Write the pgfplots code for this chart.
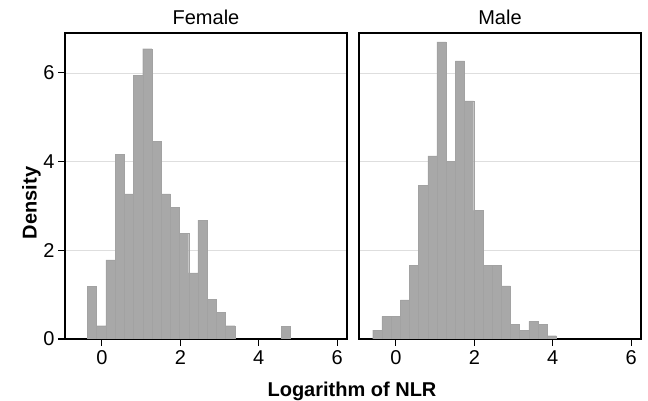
\documentclass[border=0pt]{standalone}
\usepackage{pgfplots}
\pgfplotsset{compat=1.18}
\usepackage{fontspec}
\setmainfont{Liberation Sans}
\definecolor{barcol}{RGB}{168,168,168}
\definecolor{baredge}{RGB}{162,162,162}
\definecolor{gridcol}{RGB}{222,222,222}
\pgfplotsset{
  panel/.style={
    anchor=south west, scale only axis,
    width=282pt, height=306pt,
    xmin=-0.94, xmax=6.25, ymin=0, ymax=6.9,
    xtick={0,2,4,6},
    tick pos=left, tick align=outside,
    major tick length=7pt,
    axis line style={line width=1.1pt},
    every tick/.style={black, line width=1.1pt},
    ymajorgrids, major grid style={gridcol, line width=0.8pt},
    tick label style={font=\fontsize{20}{23}\selectfont},
    /pgf/number format/assume math mode=true,
    xticklabel style={yshift=-1pt},
  },
  bars/.style={ybar interval, fill=barcol, draw=baredge, line width=0.3pt},
}
\begin{document}
\begin{tikzpicture}
\useasboundingbox (0,0) rectangle (648pt,401pt);
% Female
\begin{axis}[panel, at={(65pt,62pt)}, ytick={0,2,4,6}]
\addplot[bars] coordinates {
(-0.370,1.19) (-0.135,0.30) (0.100,1.785) (0.335,4.165) (0.570,3.27)
(0.805,5.95) (1.040,6.545) (1.275,4.46) (1.510,3.27) (1.745,2.975)
(1.980,2.38) (2.215,1.49) (2.450,2.68) (2.685,0.89) (2.920,0.595)
(3.155,0.30) (3.390,0.30)};
\addplot[bars] coordinates {(4.565,0.30) (4.800,0.30)};
\end{axis}
% Male
\begin{axis}[panel, at={(359pt,62pt)}, ytick={2,4,6}, yticklabels={},
  y tick style={draw=none}]
\addplot[bars] coordinates {
(-0.590,0.20) (-0.356,0.51) (-0.122,0.51) (0.112,0.88) (0.346,1.66)
(0.580,3.46) (0.814,4.13) (1.048,6.70) (1.282,4.01) (1.516,6.27)
(1.750,5.37) (1.984,2.90) (2.218,1.66) (2.452,1.66) (2.686,1.20)
(2.920,0.33) (3.154,0.20) (3.388,0.40) (3.622,0.33) (3.856,0.075)
(4.090,0.075)};
\end{axis}
\node[anchor=base, font=\fontsize{20}{23}\selectfont] at (206pt,376pt) {Female};
\node[anchor=base, font=\fontsize{20}{23}\selectfont] at (500pt,376pt) {Male};
\node[rotate=90, font=\fontsize{20}{23}\selectfont\bfseries] at (31.5pt,198pt) {Density};
\node[anchor=base, font=\fontsize{20}{23}\selectfont\bfseries] at (352pt,4.5pt) {Logarithm of NLR};
\end{tikzpicture}
\end{document}
